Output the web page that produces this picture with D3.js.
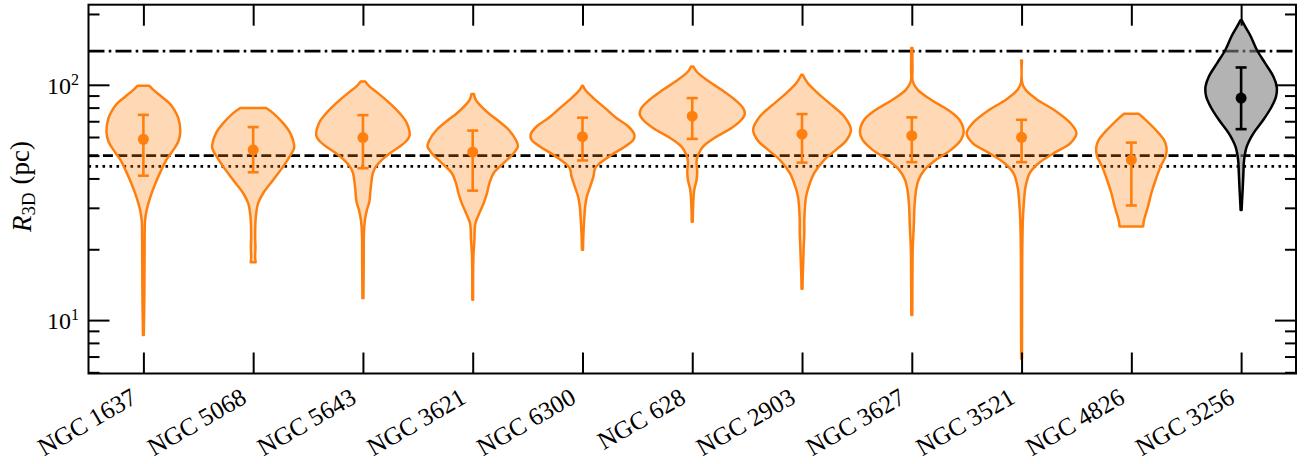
<!DOCTYPE html>
<html><head><meta charset="utf-8">
<script src="https://cdn.jsdelivr.net/npm/d3@7/dist/d3.min.js"></script>
<style>
body{margin:0;background:#fff}
text{font-family:"Liberation Serif","Times New Roman",serif;fill:#000}
</style>
</head><body>
<svg id="chart" width="1304" height="464" style="display:block"></svg>
<script>
// ---------------- data ----------------
const galaxies = ["NGC 1637","NGC 5068","NGC 5643","NGC 3621","NGC 6300","NGC 628",
                  "NGC 2903","NGC 3627","NGC 3521","NGC 4826","NGC 3256"];
// median R3D (pc) and error-bar extents
const medianR = [58.7, 52.9, 59.7, 51.8, 60.2, 73.6, 61.7, 60.8, 59.8, 48.0, 87.8];
const lowerR  = [41.1, 42.5, 44.2, 35.5, 47.7, 58.9, 46.7, 46.9, 46.9, 30.7, 64.8];
const upperR  = [74.5, 66.1, 74.3, 63.9, 72.5, 87.8, 75.1, 72.7, 71.0, 56.8, 118.5];
// reference radii (pc): dash-dot, dashed, dotted
const refValues = [139, 50, 45];
// major y tick exponents
const yMajorExp = [1, 2];

// violin profiles: [R (pc), relative density (half-width units)]
const violin_NGC1637 = [[99.0,6],[95.2,10],[89.2,18],[83.6,26],[78.3,31],[72.1,35],[63.3,37],[57.4,35],[52.9,30],[48.0,23],[43.5,18],[38.1,12],[33.4,7],[29.4,3.3],[26.6,1.7],[23.4,1.3],[13.0,1.0],[8.64,0.4]];
const violin_NGC5068 = [[79.7,13],[75.8,20],[68.7,30],[62.2,37.3],[56.5,40.7],[53.8,41],[49.6,36.7],[44.9,30],[39.4,20],[34.6,10],[31.4,5],[27.6,2.7],[22.7,2],[20.5,2.3],[18.5,2],[17.6,2.5]];
const violin_NGC5643 = [[103.3,2.3],[98.3,6.7],[92.2,15],[83.6,26.7],[75.8,36.7],[68.7,44],[60.7,46.7],[57.4,43],[54.7,37],[51.2,27],[48.0,19],[44.9,13],[42.2,10],[38.1,8.3],[34.6,7.3],[31.9,6.5],[29.4,4],[26.6,2],[23.4,1],[18.0,0.8],[12.4,0.5]];
const violin_NGC3621 = [[91.3,1.2],[86.5,3],[80.5,9],[75.0,17],[71.0,24.3],[64.4,36],[58.3,43.3],[54.7,45.3],[51.2,41],[46.5,31],[42.2,21],[38.1,16.7],[34.6,14.3],[31.4,11],[28.5,6.7],[25.8,2.7],[21.9,1.7],[18.6,0.7],[12.2,0.4]];
const violin_NGC6300 = [[99.0,0.5],[95.2,2.7],[87.8,11],[79.6,22.7],[72.1,34.3],[66.5,46],[61.3,52],[58.3,51],[54.7,42.7],[50.4,29.3],[46.5,17.7],[44.2,12.7],[40.8,11],[36.9,7.7],[33.4,4.3],[30.4,2.7],[26.6,1.7],[23.4,1.0],[19.9,0.5]];
const violin_NGC628  = [[119.7,1],[113.9,4.3],[105.0,14.3],[95.2,29.3],[86.4,42.7],[79.6,51],[75.3,52.7],[71.0,49.3],[65.5,39.3],[60.2,24.3],[54.7,11],[50.4,6],[47.3,4.3],[42.9,5],[39.4,4.3],[35.7,2],[31.4,1],[26.2,0.5]];
const violin_NGC2903 = [[110.3,0.7],[101.7,5.7],[92.2,15.7],[83.6,27.3],[73.3,42.3],[64.4,49],[58.3,44.7],[52.9,34],[48.0,22.3],[42.2,12.3],[36.9,6.7],[33.4,4],[30.4,3],[26.6,2.3],[23.4,2.3],[20.5,1.7],[18.0,1.3],[15.3,0.7],[13.6,0.5]];
const violin_NGC3627 = [[143.3,0.6],[115.8,0.7],[103.3,1],[95.2,6],[86.4,19.3],[78.3,36],[71.0,47.7],[63.3,52],[58.3,49.3],[52.9,39.3],[48.0,24.3],[43.5,12.7],[39.4,6.7],[35.7,4.3],[30.4,2.7],[25.0,2],[20.5,1],[16.3,0.7],[10.5,0.5]];
const violin_NGC3521 = [[126.9,0.4],[101.7,0.7],[95.2,4],[86.4,15.7],[78.3,32.3],[68.7,49],[62.2,55],[56.5,49],[51.2,32.3],[46.5,17.3],[42.2,8.3],[36.9,4],[31.4,2.3],[26.6,1.3],[19.3,0.7],[10.0,0.5],[6.85,0.4]];
const violin_NGC4826 = [[75.3,7.3],[71.0,14.3],[64.4,24.3],[58.3,32.7],[53.9,35.3],[49.6,34.3],[44.9,29.3],[39.4,24.3],[34.6,20],[30.4,16.7],[26.6,12.7],[25.0,11.8]];
const violin_NGC3256 = [[187.9,0.7],[177.0,4],[160.5,9.7],[140.9,15.7],[123.7,24],[108.5,32.3],[98.3,35.7],[89.2,35],[80.9,30.7],[71.0,22.3],[62.2,12.3],[54.7,5.7],[48.0,3],[42.2,2.3],[36.9,1.7],[32.4,1],[29.4,0.5]];
const violinProfiles = [violin_NGC1637, violin_NGC5068, violin_NGC5643, violin_NGC3621, violin_NGC6300,
  violin_NGC628, violin_NGC2903, violin_NGC3627, violin_NGC3521, violin_NGC4826, violin_NGC3256];

// ---------------- layout ----------------
const L = 88.5, R = 1296, T = 4.7, B = 373.5;
const svg = d3.select("#chart");

const x = d3.scalePoint().domain(galaxies).range([L, R]).padding(0.5);
const y = d3.scaleLog().domain([5.93, 219]).range([B, T]);
const w = d3.scaleLinear().domain([0, 110]).range([0, x.step()]);

const ORANGE = "#ff7f0e";
const refStyles = [
  {dash: "16,4.2,2.6,4.2"},
  {dash: "10,4.4"},
  {dash: "2.6,4.4"}
];

// reference lines
svg.append("g").selectAll("line").data(refValues).join("line")
  .attr("x1", L).attr("x2", R)
  .attr("y1", d => y(d)).attr("y2", d => y(d))
  .attr("stroke", "#000").attr("stroke-width", 2.6)
  .attr("stroke-dasharray", (d, i) => refStyles[i].dash);

// violins
const area = d3.area()
  .curve(d3.curveCatmullRom.alpha(0.5))
  .y(d => y(d[0]));

const vg = svg.append("g");
violinProfiles.forEach((prof, i) => {
  const cx = x(galaxies[i]);
  const isRef = i === galaxies.length - 1;
  vg.append("path")
    .attr("d", area.x0(d => cx - w(d[1])).x1(d => cx + w(d[1]))(prof))
    .attr("fill", isRef ? "#808080" : ORANGE)
    .attr("fill-opacity", isRef ? 0.6 : 0.3)
    .attr("stroke", isRef ? "#000" : ORANGE)
    .attr("stroke-width", 2.5)
    .attr("stroke-linejoin", "round");
});

// error bars
const eg = svg.append("g");
galaxies.forEach((g, i) => {
  const cx = x(g);
  const col = i === galaxies.length - 1 ? "#000" : ORANGE;
  const cap = 5.5;
  eg.append("line").attr("x1", cx).attr("x2", cx)
    .attr("y1", y(lowerR[i])).attr("y2", y(upperR[i]))
    .attr("stroke", col).attr("stroke-width", 2.6);
  [lowerR[i], upperR[i]].forEach(v => {
    eg.append("line").attr("x1", cx - cap).attr("x2", cx + cap)
      .attr("y1", y(v)).attr("y2", y(v))
      .attr("stroke", col).attr("stroke-width", 2.6);
  });
  eg.append("circle").attr("cx", cx).attr("cy", y(medianR[i])).attr("r", 5.5).attr("fill", col);
});

// axes
const majorVals = yMajorExp.map(e => Math.pow(10, e));
const minorVals = y.ticks().filter(v => !majorVals.some(m => Math.abs(m - v) < 1e-9));

function styleAxis(g) {
  g.select(".domain").remove();
  g.selectAll(".tick line").attr("stroke", "#000").attr("stroke-width", 2);
  g.selectAll(".tick text").remove();
}
svg.append("g").attr("transform", `translate(${L},0)`)
  .call(d3.axisLeft(y).tickValues(majorVals).tickSize(-21).tickSizeOuter(0)).call(styleAxis);
svg.append("g").attr("transform", `translate(${L},0)`)
  .call(d3.axisLeft(y).tickValues(minorVals).tickSize(-11).tickSizeOuter(0)).call(styleAxis);
svg.append("g").attr("transform", `translate(${R},0)`)
  .call(d3.axisRight(y).tickValues(majorVals).tickSize(-21).tickSizeOuter(0)).call(styleAxis);
svg.append("g").attr("transform", `translate(${R},0)`)
  .call(d3.axisRight(y).tickValues(minorVals).tickSize(-11).tickSizeOuter(0)).call(styleAxis);
svg.append("g").attr("transform", `translate(0,${B})`)
  .call(d3.axisBottom(x).tickSize(-21).tickSizeOuter(0)).call(styleAxis);
svg.append("g").attr("transform", `translate(0,${T})`)
  .call(d3.axisTop(x).tickSize(-21).tickSizeOuter(0)).call(styleAxis);

// frame
svg.append("rect").attr("x", L).attr("y", T).attr("width", R - L).attr("height", B - T)
  .attr("fill", "none").attr("stroke", "#000").attr("stroke-width", 2);

// y tick labels
yMajorExp.forEach(e => {
  const t = svg.append("text").attr("x", 79).attr("y", y(Math.pow(10, e)) + 9)
    .attr("text-anchor", "end").attr("font-size", 24);
  t.append("tspan").text("10");
  t.append("tspan").attr("font-size", 16).attr("dy", -9).text(String(e));
});

// x tick labels
svg.append("g").selectAll("text").data(galaxies).join("text")
  .attr("transform", d => `translate(${x(d) - 5},402) rotate(-30)`)
  .attr("text-anchor", "end").attr("font-size", 25).text(d => d);

// y axis label: size it so its on-screen extent spans the reference height
const yl = svg.append("text").attr("transform", "translate(0,0) rotate(-90)")
  .attr("text-anchor", "middle").attr("font-size", 24);
yl.append("tspan").attr("font-style", "italic").text("R");
yl.append("tspan").attr("font-size", "0.7em").attr("dy", "0.22em").text("3D");
yl.append("tspan").attr("dy", "-0.22em").attr("dx", "0.3em").text("(pc)");
let rb = yl.node().getBoundingClientRect();
yl.attr("font-size", 24 * 92 / rb.height);
rb = yl.node().getBoundingClientRect();
yl.attr("transform", `translate(${39 - rb.right},${187 - (rb.top + rb.bottom) / 2}) rotate(-90)`);
</script>
</body></html>
